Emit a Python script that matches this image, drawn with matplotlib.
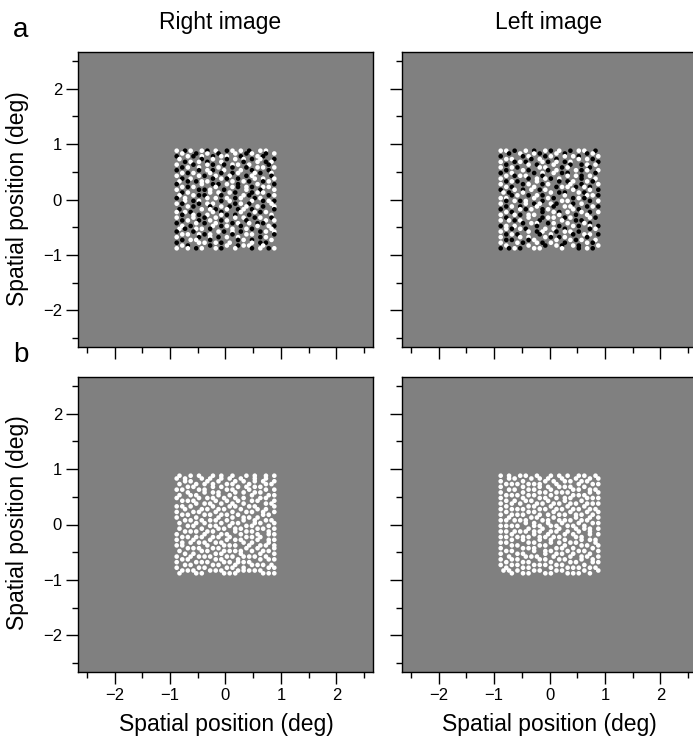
import matplotlib
matplotlib.use("Agg")
import matplotlib.pyplot as plt

plt.rcParams['font.family'] = ['Liberation Sans', 'DejaVu Sans']

# -----------------------------
# Dot patterns: one string per row (top row first),
# 36 cells spanning -0.88..0.88 deg. w = white dot, k = black dot, o = white dot
# -----------------------------
right_a = [
    "w..k.w...w.k..w...k.w..w..k...w.w...",
    "..w....k...w...k.....w...k.w....k..w",
    "k...w.k..w...k..w.w....k.....w.k....",
    ".w.......k...w....k..w..w..k..w....k",
    "...k.w..w..k....w.......k....w..k.w.",
    "w.....k....w.k...k..w.w...w......k..",
    "..k.w...w......w....k....k...w.w...w",
    "k.......k..w.k...w.....w...k.....k..",
    "..w.k.w.....w...k...k.w.....w.k...w.",
    "w.......w.k...w....w.....k.w......k.",
    "..k..w.......k..w.k...k.....w..w...w",
    ".w..k..k.w.w........w...w.k....k.w..",
    "k........w...k.k..w...k......w.....k",
    "..w.k.w.......w.....w.k..w.k...w.w..",
    "w.......k.k.w....k.......w....k....w",
    "..k.w.......w..w...w.k.....k.w.w....",
    ".w....w.k.k.....k.......w.k......k.w",
    "k..w.......w..w...w..k.w....k.w.....",
    "...w..k.w.......k..w.......w...k.w.k",
    "w.k.....k..w.w.......k.w..k.......w.",
    "....w.k.....k...w..k.....w...w.k...w",
    ".k.......w..w.k...w...k.w..k.......k",
    "w..w.k.......w..k......w....w.k.w...",
    "..k...w.k..w....w.k..k....k.......w.",
    "w.....w...k...w......w..w...k.w...k.",
    "..k.w...k...w...k.w......k......w..w",
    "k......w..k...w.....k.w...w..k.k....",
    "..w..k.......w..k.w....k.....w...w.k",
    ".w.k...w.w..k.......w....w.k......w.",
    "k.....k........w.k..w..k......k.w..w",
    "..w.w...w.k.w.......k....w.w.......k",
    "w.......k...w..k..w...w.......k.w...",
    "..k..w.w....k.........k.w..k......w.",
    "k.......w.w...w.k..w.......w..k.k...",
    "..w.k.......k.....w...k.w.w....w....",
    "w...w..k.w....w.k....w.....k..w..k.w",
]

left_a = [
    "w.w..k...w..k...w.k..w...k..w.w...k.",
    "...k...w....w.k.....w..k.......k.w..",
    "k.......k.w.....k.w....w..w.k......w",
    "..w.w......k..w.....k.......w..w.k..",
    "w....k.w.k.....w.k..w..k.w.........k",
    "..k.......w..k.....w.....k...k.w..w.",
    "w...w.k.......w.w.....k.w.......k...",
    "..k.....w.k......k..w......w.k.w...w",
    "k...w.......k..w...w..k.k.........k.",
    "..w..k.w.w.....k........w..w.k..w...",
    "w.........k..w..w.k..w.......k....w.",
    "..k.w.k......w.......k..k.w....w.k..",
    "w.......k.w....k.w.......w...k.....w",
    "..w.k.......w.......k.w.w..k..w.k...",
    "k....w..k..w..k.w.........w.....w..k",
    ".w.k....w.........w..k.k....w.k.....",
    "....k.w...k..w.k.......w.......w.w.k",
    "w.w.........w....w.k......k.w.k.....",
    "..k..w.k.w.....k......w.w.......k..w",
    "w........w..k.w...w.k.....k..w......",
    "..k.w..k.....w.....k...w.w.....k.w.k",
    "k......w.k.w...k.w........w.k.......",
    "..w.k..........k...w.k..w....w..k..w",
    "w....w.k..w.w........w.....k...w....",
    "..k.......w....k.w.w...k.w......w.k.",
    "w..w.k.w......k.......w....k.k......",
    "........k..w.w...k.w....w.....w.k...",
    "k.w..w.......k.......k....w.k...w..k",
    "..w.k..w.k......w..w...k........k.w.",
    "w.........w..k.w....k..w.w..k.......",
    "..k.w.k.......k...w.......k...w.w..k",
    "w......w..w.....w.k..k.w.......k....",
    "..k.k.....k.w.......w....w.k.w....w.",
    "w.....w.k....w.k..w....k.......w.k..",
    "..w.......w.....k...w.k...w.k......w",
    "k..k.w.k....w.w.......w.....k..w.k..",
]

right_b = [
    ".o...o..o....o..o...o....o..o...o..o",
    "o..o.....o..o...o..o...o....o...o...",
    "...o.o.....o...o.....o..o...o..o...o",
    ".o.....o..o..o....o.o.....o.....o.o.",
    "....o.o......o..o.....o..o..o.o.....",
    "o.o.....o.o.......o.o.....o.....o..o",
    "....o.....o..o.o.....o..o...o.o.....",
    ".o...o.o.......o...o.......o.....o.o",
    "o.......o..o.o...o...o..o.....o.o...",
    "..o.o.o.......o...o...o....o.o.....o",
    ".......o..o.o...o...o...o.......o.o.",
    "o.o..o.......o.....o.o....o.o......o",
    "...o.....o.o...o.o.....o.....o..o...",
    "o.....o.o.....o.....o....o.o...o...o",
    "..o.o.....o.o...o.o...o........o.o..",
    "o......o.......o....o...o.o..o......",
    "...o.o...o..o.o...o.....o...o...o.o.",
    ".o.....o..o.....o...o.o.....o.o....o",
    "....o.o.....o.o....o.....o.o.....o..",
    ".o.......o.....o.o...o.o.....o.o...o",
    "...o.o.o...o.o.......o...o.o.....o..",
    "o.........o.....o.o....o.....o...o.o",
    "..o.o..o.o...o.o...o.....o.o..o.....",
    "o.....o.....o.....o..o.o.....o...o.o",
    "..o..o..o.o...o.o.......o..o.....o..",
    "o.o........o.....o.o.o....o...o.o..o",
    "....o.o.o....o.o.........o...o.....o",
    ".o.......o.o.....o.o.o.o...o...o.o..",
    "...o..o.......o.o......o......o....o",
    "o....o..o.o.o.....o.o...o.o.o...o...",
    "..o.o.........o.o.....o.......o..o.o",
    "o......o.o.o.....o.o..o.o.o.........",
    "...o.o.......o.o.....o.....o.o.o..o.",
    "o.......o.o.......o.o...o........o.o",
    "..o.o.o.....o.o.o.....o.o.o.o.o.....",
    ".o.....o.o.......o.o.o.........o.o.o",
]

left_b = [
    "o..o...o.o...o....o..o..o...o.o...o.",
    "...o.o.....o..o..o....o....o....o..o",
    "o.......o.......o..o...o.o...o.o....",
    "..o.o.o...o.o.o.....o.......o....o.o",
    "o.......o.....o..o...o.o.o....o.....",
    "...o.o....o.o.....o.......o.o...o.o.",
    "o.......o.....o.o...o.o.o.......o..o",
    "..o.o.o...o.o.....o.......o.o.o.....",
    "o.......o.....o.o...o..o.o.....o.o.o",
    "..o..o...o.o.....o.....o.....o......",
    "o...o..o.....o.o...o.o...o.o...o.o.o",
    "..o.......o.o.....o.....o.....o.....",
    "o...o.o.o.....o.o...o.o...o.o...o.o.",
    "..o.......o.o......o.....o.....o...o",
    "o...o.o.o.....o..o...o.o...o.o...o..",
    "...o.......o.o.....o.......o....o..o",
    "o.o..o.o.o.....o.o...o.o.o...o.o....",
    ".........o..o....o....o.....o....o.o",
    "o.o.o.o.....o.o...o.o...o.o...o.....",
    "..........o....o.....o.....o..o.o..o",
    "o.o..o.o.o..o.o...o.o...o...o...o...",
    "....o.......o....o.....o..o.....o..o",
    "o.o...o.o.o...o.o..o.o.....o.o......",
    "....o...o.....o...o....o.....o..o.o.",
    "o.o.......o.o.....o..o...o.o......o.",
    "....o.o.......o.o......o.....o.o...o",
    "o.......o.o.o.......o.o...o......o..",
    "..o.o.......o...o.o.....o...o.o....o",
    "o.....o.o.......o...o.o...o.....o...",
    "...o.....o.o.o.....o.....o...o.o...o",
    "o...o.o.......o.o....o.o.....o...o..",
    "..o.....o.o.......o......o.o.....o.o",
    "o...o.o.....o.o.o...o.o.......o.....",
    "..o.....o.o.......o.....o.o.o...o.o.",
    ".o.o..o.....o.o.....o.o.......o....o",
    "....o...o.o.....o.o.....o.o.o...o...",
]

column_titles = ["Right image", "Left image"]
panel_letters = ["a", "b"]
axis_label = "Spatial position (deg)"
major_ticks = [-2, -1, 0, 1, 2]
minor_ticks = [-2.5, -1.5, -0.5, 0.5, 1.5, 2.5]
lim = 2.66

n_cells = 36
half = 0.88
dot_colours = {"w": "white", "k": "black", "o": "white"}


def pattern_to_dots(rows):
    step = 2 * half / (n_cells - 1)
    xs, ys, cs = [], [], []
    for r, row in enumerate(rows):
        for c, ch in enumerate(row[:n_cells]):
            if ch in dot_colours:
                xs.append(-half + c * step)
                ys.append(half - r * step)
                cs.append(dot_colours[ch])
    return xs, ys, cs


# -----------------------------
# Figure layout (pixel positions of the reference)
# -----------------------------
W, H = 693, 740
fig = plt.figure(figsize=(W / 100, H / 100), dpi=100)

ax_w = 295 / W
ax_h = 295 / H
lefts = [78 / W, 402 / W]
bottoms = [1 - 347 / H, 1 - 672 / H]
patterns = [[right_a, left_a], [right_b, left_b]]

for i in range(2):
    for j in range(2):
        ax = fig.add_axes([lefts[j], bottoms[i], ax_w, ax_h])
        ax.set_facecolor("#808080")
        xs, ys, cs = pattern_to_dots(patterns[i][j])
        ax.scatter(xs, ys, s=11, c=cs, linewidths=0)
        ax.set_xlim(-lim, lim)
        ax.set_ylim(-lim, lim)
        ax.set_xticks(major_ticks)
        ax.set_yticks(major_ticks)
        ax.set_xticks(minor_ticks, minor=True)
        ax.set_yticks(minor_ticks, minor=True)
        ax.tick_params(which="major", length=8.5, width=1.0, direction="out",
                       labelsize=12, pad=3)
        ax.tick_params(which="minor", length=4.3, width=1.0, direction="out")
        ax.tick_params(labelbottom=(i == 1), labelleft=(j == 0))
        for sp in ax.spines.values():
            sp.set_linewidth(1.0)

# -----------------------------
# Text
# -----------------------------
fig.text(220 / W, 1 - 22 / H, column_titles[0], ha="center", va="center", fontsize=16.5)
fig.text(549 / W, 1 - 22 / H, column_titles[1], ha="center", va="center", fontsize=16.5)
fig.text(21 / W, 1 - 30 / H, panel_letters[0], ha="center", va="center", fontsize=20)
fig.text(21 / W, 1 - 355 / H, panel_letters[1], ha="center", va="center", fontsize=20)

for yc in [199, 523]:
    fig.text(18 / W, 1 - yc / H, axis_label, ha="center", va="center",
             rotation=90, fontsize=16.5)
for xc in [226, 549]:
    fig.text(xc / W, 1 - 725 / H, axis_label, ha="center", va="center", fontsize=16.5)

fig.savefig("out.png", dpi=100)
